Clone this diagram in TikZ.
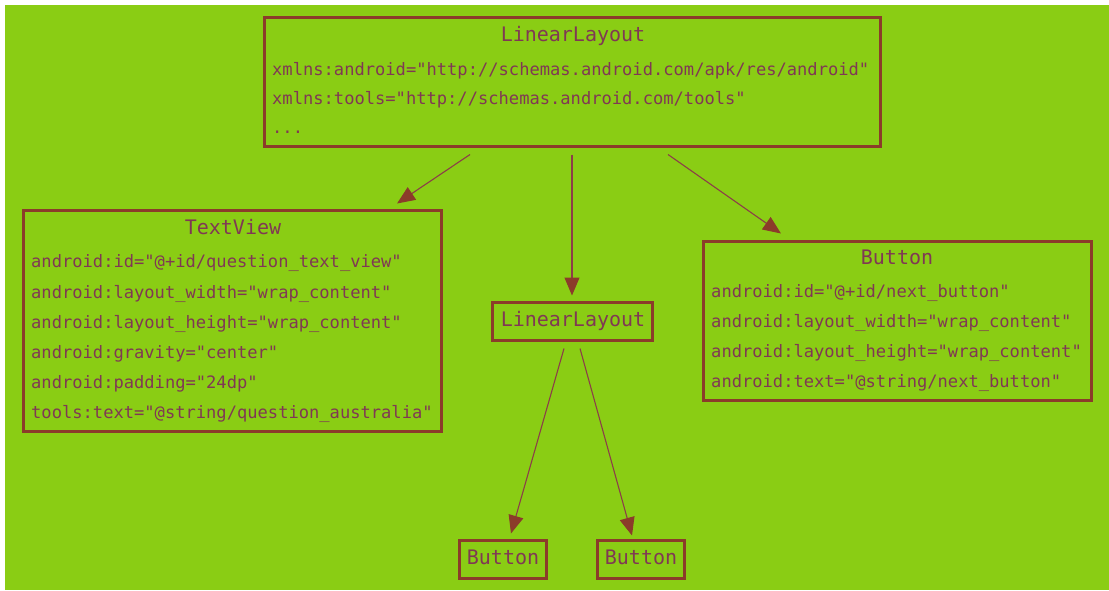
\documentclass[tikz,border=0pt]{standalone}
\usepackage{fontspec}
\newfontfamily\codefont{DejaVu Sans Mono}
\usetikzlibrary{calc,arrows.meta}
\definecolor{leaf}{RGB}{138,205,20}
\definecolor{frame}{RGB}{139,60,42}
\definecolor{ink}{RGB}{128,56,84}
\definecolor{wire}{RGB}{140,62,72}
\tikzset{
  box/.style={draw=frame,line width=3pt,rectangle,inner sep=0pt},
  title/.style={anchor=base,inner sep=0pt,text=ink,font=\codefont\fontsize{20}{20}\selectfont},
  attr/.style={anchor=base west,inner sep=0pt,text=ink,font=\codefont\fontsize{17.1}{17}\selectfont},
  arr/.style={draw=wire,line width=1.1pt,-{Triangle[length=18pt,width=15pt,color=frame]}},
}
\begin{document}
\begin{tikzpicture}[x=1pt,y=-1pt]
\useasboundingbox (0,0) rectangle (1109,590);
\fill[white] (0,0) rectangle (1109,590);
\fill[leaf] (5,5) rectangle (1109,590);

% root layout
\node[box,minimum width=616pt,minimum height=129pt] (top) at (572,81.5) {};
\node[title] (topT) at (573,41) {LinearLayout};
\node[attr] (topA) at (272,75) {xmlns:android="http://schemas.android.com/apk/res/android"};
\node[attr] (topB) at (272,104) {xmlns:tools="http://schemas.android.com/tools"};
\node[attr] (topC) at (272,133) {...};

% text view
\node[box,minimum width=418pt,minimum height=221pt] (tv) at (232,320.5) {};
\node[title] (tvT) at (233,234) {TextView};
\node[attr] (tvA) at (31,267) {android:id="@+id/question\_text\_view"};
\node[attr] (tvB) at (31,298) {android:layout\_width="wrap\_content"};
\node[attr] (tvC) at (31,328) {android:layout\_height="wrap\_content"};
\node[attr] (tvD) at (31,358) {android:gravity="center"};
\node[attr] (tvE) at (31,388) {android:padding="24dp"};
\node[attr] (tvF) at (31,418) {tools:text="@string/question\_australia"};

% nested layout
\node[box,minimum width=160pt,minimum height=38pt] (mid) at (572,321) {};
\node[title] (midT) at (573,326) {LinearLayout};

% next button
\node[box,minimum width=388pt,minimum height=159pt] (rb) at (897,320.5) {};
\node[title] (rbT) at (897,264) {Button};
\node[attr] (rbA) at (711,297) {android:id="@+id/next\_button"};
\node[attr] (rbB) at (711,327) {android:layout\_width="wrap\_content"};
\node[attr] (rbC) at (711,357) {android:layout\_height="wrap\_content"};
\node[attr] (rbD) at (711,387) {android:text="@string/next\_button"};

% buttons inside the nested layout
\node[box,minimum width=87pt,minimum height=38pt] (bl) at (502.5,559) {};
\node[title] (blT) at (503,564) {Button};
\node[box,minimum width=87pt,minimum height=38pt] (br) at (640.5,559) {};
\node[title] (brT) at (641,564) {Button};

% connectors
\draw[arr] ($(top.south)+(-102,7)$) -- ($(tv.north)+(165,-5)$);
\draw[arr] ($(top.south)+(0,7)$) -- ($(mid.north)+(0,-5)$);
\draw[arr] ($(top.south)+(96,7)$) -- ($(rb.north)+(-116,-6)$);
\draw[arr] ($(mid.south)+(-8,7)$) -- ($(bl.north)+(8.5,-5)$);
\draw[arr] ($(mid.south)+(8,7)$) -- ($(br.north)+(-8.5,-3)$);
\end{tikzpicture}
\end{document}
